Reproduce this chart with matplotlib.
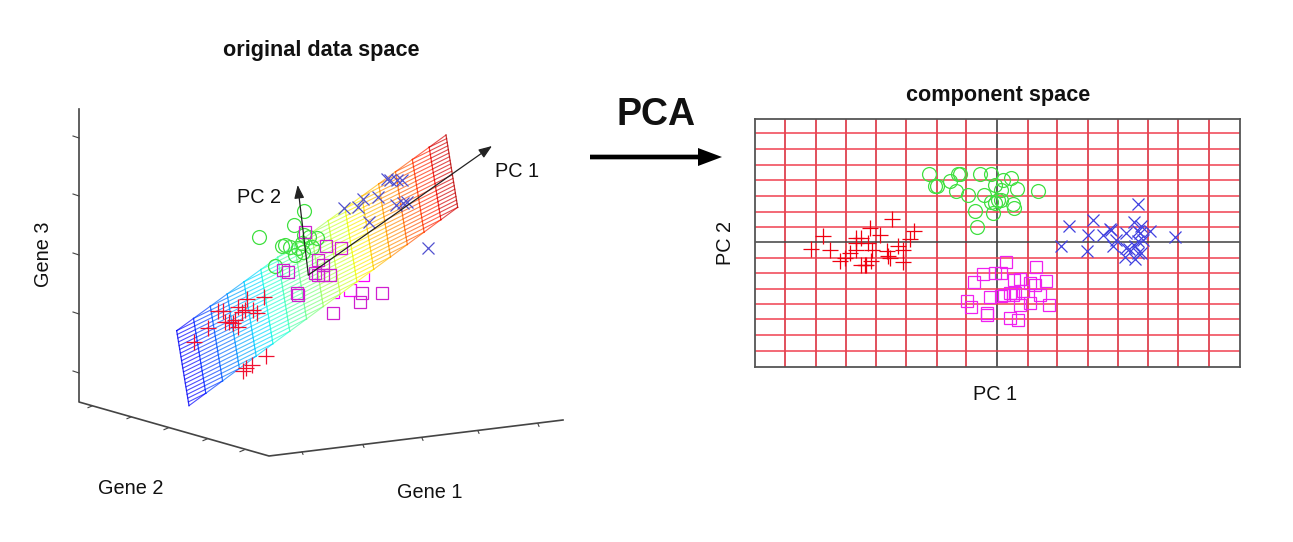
import numpy as np
import matplotlib
matplotlib.use("Agg")
import matplotlib.pyplot as plt
from matplotlib.colors import to_rgba

plt.rcParams["font.family"] = ["Liberation Sans", "DejaVu Sans"]

W, H = 1293, 542

# component space, scores
red_pc1 = [-559, -522, -502, -472, -457, -424, -407, -424, -422, -397, -392, -377, -374, -380, -352, -314, -327, -322, -330, -297, -282, -282, -262, -250, -442, -407, -387]
red_pc2 = [-21, 17, -23, -58, -48, 12, 12, -23, -3, -68, -68, -58, -23, 42, 22, 70, -43, -48, -28, -13, -23, -60, 10, 32, -33, -68, -3]
green_pc1 = [-205, -187, -180, -142, -124, -117, -110, -87, -52, -17, -39, -65, -59, -12, -7, -7, 3, -17, 43, 18, 60, 123, 48, 50, 13, 13]
green_pc2 = [205, 167, 167, 182, 154, 205, 205, 142, 205, 205, 142, 92, 44, 87, 117, 172, 127, 120, 192, 187, 160, 152, 114, 102, 127, 157]
mag_pc1 = [-69, -42, -7, -22, -90, -77, -31, -30, 13, 28, 13, 116, 50, 70, 98, 113, 148, 53, 48, 20, 68, 98, 155, 40, 63, 128, 78, 38]
mag_pc2 = [-119, -96, -92, -166, -176, -194, -213, -218, -163, -61, -93, -75, -113, -110, -123, -130, -118, -153, -158, -158, -188, -183, -188, -228, -235, -158, -148, -153]
blue_pc1 = [193, 215, 288, 273, 270, 318, 338, 343, 348, 386, 358, 386, 383, 413, 396, 423, 411, 433, 460, 428, 423, 438, 423, 433, 533, 413, 423]
blue_pc2 = [-11, 47, 67, 20, -28, 20, 39, 37, -13, 27, 7, -18, -46, -50, -20, 114, 60, 47, 34, 27, 2, 7, -33, -33, 14, -13, 32]

grid_pc1 = [-636, -543, -453, -363, -273, -180, -93, 0, 93, 180, 273, 363, 453, 543, 636]
grid_pc2 = [327, 279, 231, 186, 138, 90, 45, 0, -48, -93, -141, -186, -231, -279, -327]

# original data space, projected
red3_x = [72, 113, 145, 160, 165, 178, 190, 205, 205, 215, 232, 283, 262, 250, 195, 225, 245, 228, 288, 220]
red3_y = [665, 623, 572, 572, 605, 605, 610, 620, 560, 575, 537, 530, 578, 570, 600, 570, 735, 745, 707, 752]
green3_x = [267, 403, 372, 403, 335, 345, 360, 375, 395, 425, 418, 400, 315, 385, 440]
green3_y = [351, 273, 316, 345, 378, 375, 380, 405, 370, 380, 350, 395, 437, 385, 355]
green3_back_x = [515]
green3_back_y = [315]
mag3_x = [405, 340, 355, 380, 383, 445, 460, 468, 513, 435, 445, 460, 480, 575, 637, 570, 488]
mag3_y = [337, 450, 455, 520, 525, 420, 435, 378, 384, 460, 465, 465, 465, 518, 520, 547, 580]
mag3_back_x = [410, 490, 540, 580]
mag3_back_y = [478, 515, 510, 465]
blue3_x = [522, 565, 578, 625, 597, 650, 660, 695, 678, 700, 710, 773, 680]
blue3_y = [265, 260, 238, 232, 307, 178, 180, 180, 255, 250, 245, 384, 180]

plane_top_x = [20, 828]
plane_top_y = [632, 45]
plane_bot_x = [57, 863]
plane_bot_y = [857, 262]
n_cols = 16
n_rows = 20

box_x = [-273, -273, 297, 1179]
box_y = [-33, 846, 1008, 900]
z_ticks = [51, 225, 402, 579, 756]
y_tick_x = [-234, -117, -6, 111, 222]
y_tick_y = [858, 891, 924, 957, 990]
x_tick_x = [396, 579, 756, 924, 1104]
x_tick_y = [996, 975, 954, 933, 912]

fig = plt.figure(figsize=(W / 100, H / 100), dpi=100, facecolor="white")

# left panel: units are 3x pixels, origin at (170,120)
ax = fig.add_axes([0, 0, 1, 1])
ax.set_xlim(-510, (W - 170) * 3)
ax.set_ylim((H - 120) * 3, -360)
ax.axis("off")

ax.plot(box_x, box_y, color="#444444", lw=1.2, zorder=1)
for t in z_ticks:
    ax.plot([-291, -273], [t - 3, t + 3], color="#444444", lw=0.8)
for tx, ty in zip(y_tick_x, y_tick_y):
    ax.plot([tx, tx - 12], [ty, ty + 5], color="#444444", lw=0.8)
for tx, ty in zip(x_tick_x, x_tick_y):
    ax.plot([tx, tx + 3], [ty, ty + 7], color="#444444", lw=0.8)

# stuff behind the plane
ax.plot(mag3_back_x, mag3_back_y, "s", ms=9, mfc="none", mec="#ff00ff", mew=0.9, zorder=2)
ax.plot(green3_back_x, green3_back_y, "o", ms=10, mfc="none", mec="#40e040", mew=0.9, zorder=2)

# the plane, white underneath so it hides what is behind
tx = np.linspace(plane_top_x[0], plane_top_x[1], n_cols + 1)
ty = np.linspace(plane_top_y[0], plane_top_y[1], n_cols + 1)
bx = np.linspace(plane_bot_x[0], plane_bot_x[1], n_cols + 1)
by = np.linspace(plane_bot_y[0], plane_bot_y[1], n_cols + 1)
ax.fill([tx[0], tx[-1], bx[-1], bx[0]], [ty[0], ty[-1], by[-1], by[0]], color="white", zorder=3)
cmap = plt.get_cmap("jet")
for i in range(n_cols + 1):
    ax.plot([tx[i], bx[i]], [ty[i], by[i]], color=to_rgba(cmap(0.1 + 0.85 * i / n_cols), 0.8), lw=0.9, zorder=4)
    if i == n_cols:
        break
    c = to_rgba(cmap(0.1 + 0.85 * (i + 0.5) / n_cols), 0.7)
    # rows look sheared in the picture, each one drops a step per column
    ax.plot([tx[i], tx[i + 1]], [ty[i], ty[i + 1]], color=c, lw=0.8, zorder=4)
    ax.plot([bx[i], bx[i + 1]], [by[i], by[i + 1]], color=c, lw=0.8, zorder=4)
    for k in range(n_rows):
        r0, r1 = k / n_rows, (k + 1) / n_rows
        ax.plot([tx[i] + (bx[i] - tx[i]) * r0, tx[i + 1] + (bx[i + 1] - tx[i + 1]) * r1],
                [ty[i] + (by[i] - ty[i]) * r0, ty[i + 1] + (by[i + 1] - ty[i + 1]) * r1],
                color=c, lw=0.8, zorder=4)

ax.plot(green3_x, green3_y, "o", ms=10, mfc="none", mec="#40e040", mew=0.9, zorder=5)
ax.plot(red3_x, red3_y, "+", ms=11, color="#f01030", mew=0.9, zorder=5)
ax.plot(blue3_x, blue3_y, "x", ms=8, color="#5050d0", mew=0.9, zorder=5)
ax.plot(mag3_x, mag3_y, "s", ms=9, mfc="none", mec="#d020d0", mew=0.9, zorder=5)

ax.annotate("", xy=(966, 78), xytext=(415, 465), zorder=6,
            arrowprops=dict(arrowstyle="-|>,head_length=0.8,head_width=0.3", color="#222222", lw=0.9, shrinkA=0, shrinkB=0))
ax.annotate("", xy=(383, 195), xytext=(415, 465), zorder=6,
            arrowprops=dict(arrowstyle="-|>,head_length=0.8,head_width=0.3", color="#222222", lw=0.9, shrinkA=0, shrinkB=0))

# right panel
ax2 = fig.add_axes([755 / W, 1 - 367 / H, 485 / W, 248 / H])
ax2.set_xlim(-726, 729)
ax2.set_ylim(-375, 369)
ax2.set_xticks([])
ax2.set_yticks([])
for s in ax2.spines.values():
    s.set_color("#555555")
    s.set_linewidth(1.3)
for g in grid_pc1:
    ax2.axvline(g, color="#303030" if g == 0 else "#d82030", lw=1.1, zorder=1)
for g in grid_pc2:
    ax2.axhline(g, color="#404040" if g == 0 else "#f04050", lw=1.1, zorder=1)
ax2.plot(green_pc1, green_pc2, "o", ms=10, mfc="none", mec="#40e040", mew=0.9, zorder=3)
ax2.plot(red_pc1, red_pc2, "+", ms=11, color="#f00010", mew=0.9, zorder=3)
ax2.plot(blue_pc1, blue_pc2, "x", ms=8, color="#4040e0", mew=0.9, zorder=3)
ax2.plot(mag_pc1, mag_pc2, "s", ms=9, mfc="none", mec="#f020f0", mew=0.9, zorder=3)


def label(x, y, s, **kw):
    fig.text(x / W, 1 - y / H, s, ha="center", va="center", color="#111111", **kw)


label(321, 51, "original data space", fontsize=15.6, fontweight="bold")
label(998, 95, "component space", fontsize=15.6, fontweight="bold")
label(656, 115, "PCA", fontsize=27, fontweight="bold")
label(517, 171, "PC 1", fontsize=14.3)
label(259, 198, "PC 2", fontsize=14.3)
label(995, 394, "PC 1", fontsize=14.3)
label(725, 243, "PC 2", fontsize=14.3, rotation=90)
label(43, 254, "Gene 3", fontsize=14.3, rotation=90)
label(131, 488, "Gene 2", fontsize=14.3)
label(430, 492, "Gene 1", fontsize=14.3)

# big arrow between the panels
ax.arrow((590 - 170) * 3, (157 - 120) * 3, (722 - 590) * 3, 0, width=14, head_width=54, head_length=72,
         length_includes_head=True, color="black", lw=0)

fig.savefig("out.png", dpi=100)
